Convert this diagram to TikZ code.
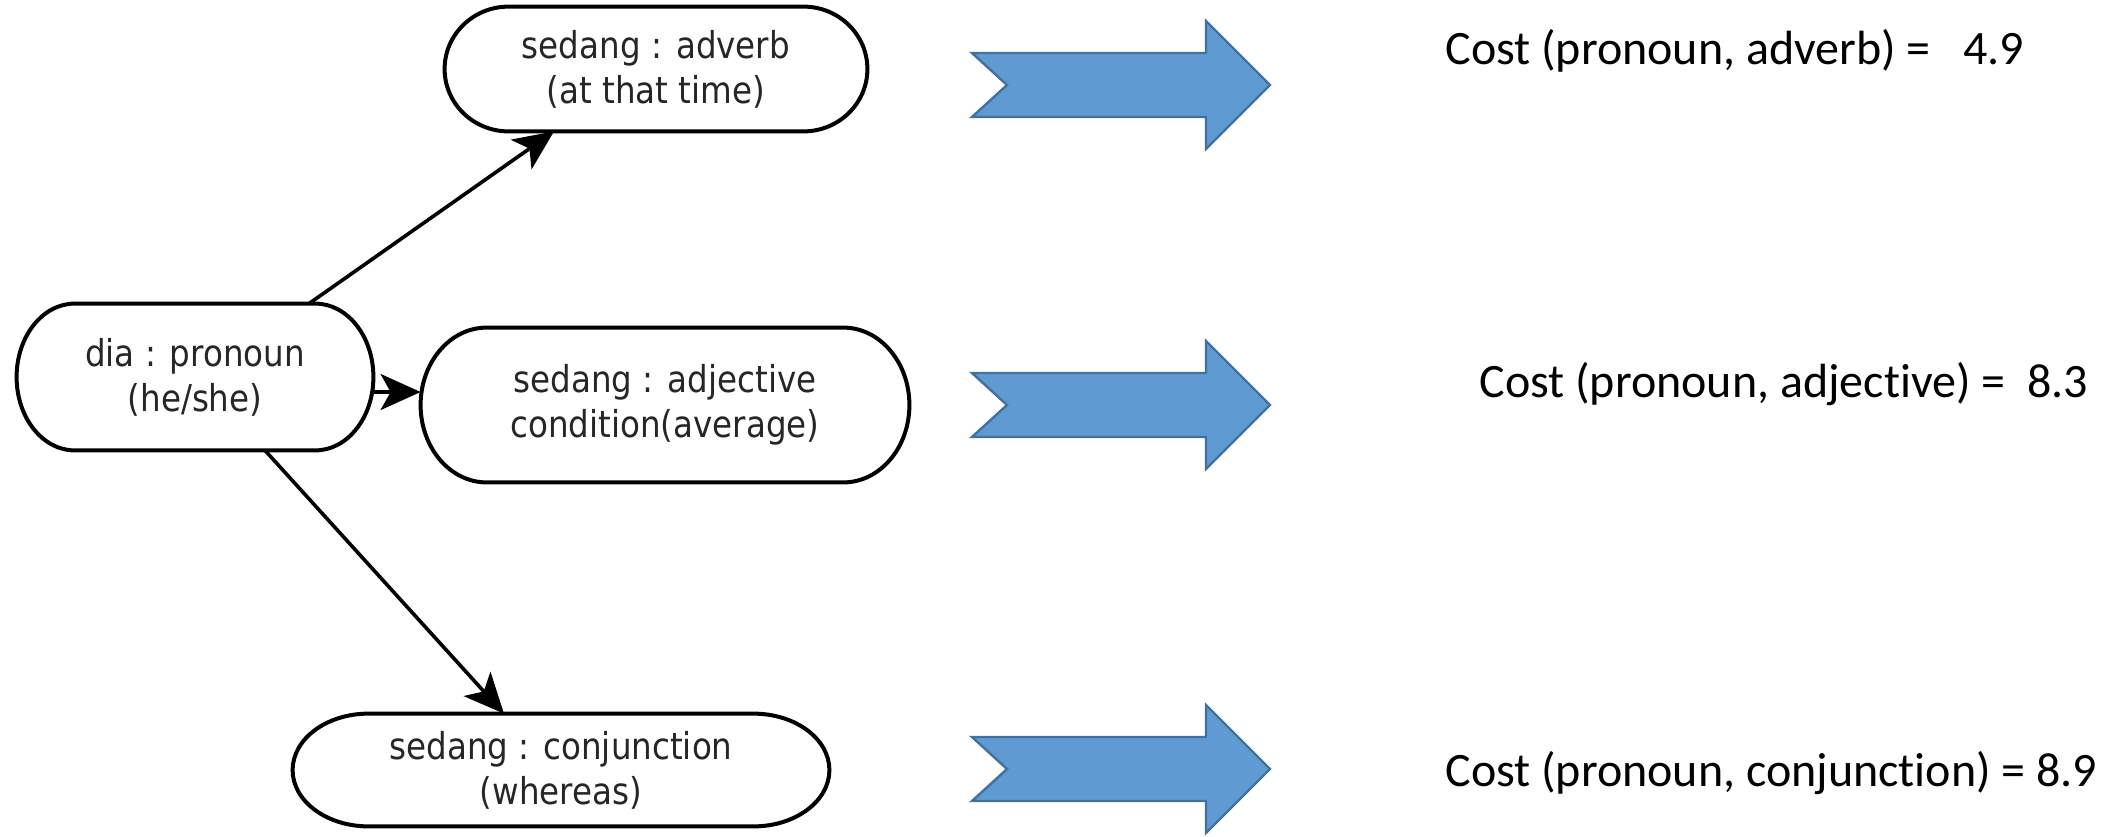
\documentclass[tikz,border=0pt]{standalone}
\usepackage{fontspec}
\setmainfont[Ligatures=NoCommon]{Carlito}
\newfontfamily\nodefont[FakeStretch=0.88]{DejaVu Sans}
\usepackage{tikz}
\usetikzlibrary{calc}
\usetikzlibrary{arrows.meta}
\definecolor{arrowfill}{RGB}{95,155,210}
\definecolor{arrowline}{RGB}{65,113,156}

% pill border with elliptic ends round a node: #1 node, #2 width of the ends
\newcommand{\PillBorder}[2]{%
	\draw[PillLine] let \p1=(#1.north west), \p2=(#1.south east), \n1={(\y1-\y2)/2} in
	(\x1+#2,\y1) -- (\x2-#2,\y1) arc[start angle=90,end angle=-90,x radius=#2,y radius=\n1]
	-- (\x1+#2,\y2) arc[start angle=270,end angle=90,x radius=#2,y radius=\n1] -- cycle;}

\begin{document}
\begin{tikzpicture}[
	x=0.5pt, y=-0.5pt,
	WordNode/.style={align=center,inner sep=0pt,
		font=\nodefont\fontsize{18.5}{22.5}\selectfont,text=black!85},
	PillLine/.style={draw=black,line width=2pt},
	Links/.style={line width=1.8pt,-{Stealth[length=20pt,width=18pt,inset=5pt]}},
	BigArrow/.style={fill=arrowfill,draw=arrowline,line width=1.2pt,line join=miter},
	CostText/.style={anchor=west,inner sep=0pt,font=\fontsize{24}{28}\selectfont}
	]
	\useasboundingbox (0,0) rectangle (2118,836);
	
	% the word senses
	\node[WordNode,minimum width=178pt,minimum height=73pt] (pron) at (195,377) {dia : pronoun\\(he/she)};
	\node[WordNode,minimum width=211pt,minimum height=62pt] (adv) at (656,69) {sedang : adverb\\(at that time)};
	\node[WordNode,minimum width=244pt,minimum height=77pt] (adj) at (665,405) {sedang : adjective\\condition(average)};
	\node[WordNode,minimum width=268pt,minimum height=56pt] (conj) at (561,770) {sedang : conjunction\\(whereas)};
	
	\PillBorder{pron}{29pt}
	\PillBorder{adv}{32pt}
	\PillBorder{adj}{33pt}
	\PillBorder{conj}{38pt}
	
	\draw[Links] ($(pron.north)+(114,0)$) -- ($(adv.south)+(-102,0)$);
	\draw[Links] ($(pron.east)+(0,15)$) -- ($(adj.west)+(0,-13)$);
	\draw[Links] ($(pron.south)+(70,0)$) -- ($(conj.north)+(-57,0)$);
	
	% block arrows
	\foreach \cy in {85,405,769}
	{ \draw[BigArrow] (972,\cy-32) -- (1206,\cy-32) -- (1206,\cy-64) -- (1270,\cy)
		-- (1206,\cy+64) -- (1206,\cy+32) -- (972,\cy+32) -- (1007,\cy) -- cycle;
	}
	
	\node[CostText] (costadv) at (1445,51) {Cost (pronoun, adverb) =\ \ \ 4.9};
	\node[CostText] (costadj) at (1479,384) {Cost (pronoun, adjective) =\ \ 8.3};
	\node[CostText] (costconj) at (1445,773) {Cost (pronoun, conjunction) = 8.9};
	
\end{tikzpicture}
\end{document}
